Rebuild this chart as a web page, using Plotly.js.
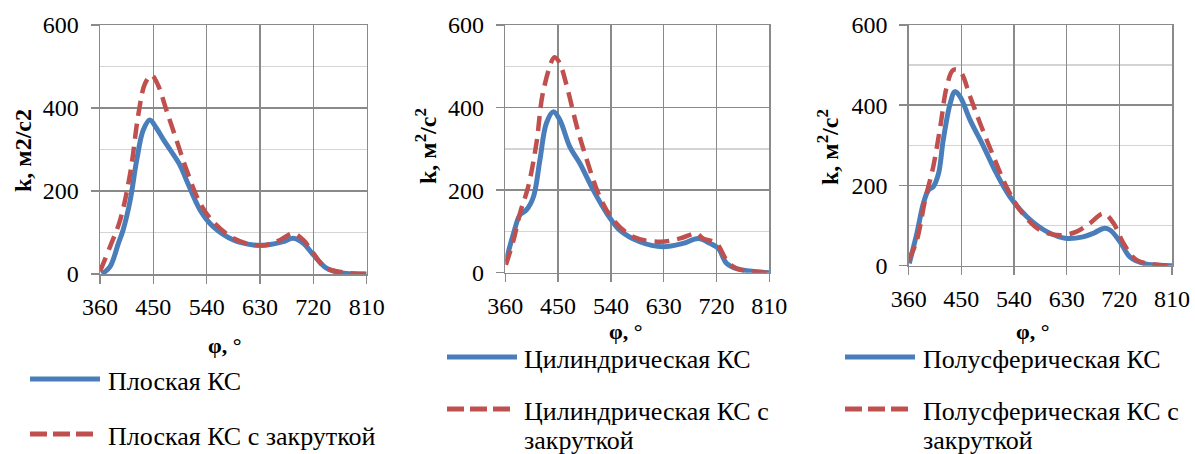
<!DOCTYPE html>
<html>
<head>
<meta charset="utf-8">
<script src="https://cdn.plot.ly/plotly-3.0.1.min.js"></script>
<style>
  html, body { margin: 0; padding: 0; background: #ffffff; }
  #chart { width: 1195px; height: 454px; }
</style>
</head>
<body>
<div id="chart"></div>
<script>
// ---------- DATA ----------
// Chart 1: flat combustion chamber
const phiFlat       = [363, 377, 391, 399, 411, 422, 433, 444, 455, 467, 478, 495, 506, 529, 551, 585, 619, 641, 669, 686, 703, 720, 742, 765, 810];
const kFlat         = [0,   18,  74,  106, 178, 275, 347, 371, 352, 324, 300, 262, 226, 154, 114, 82,  70,  70,  78,  86,  74,  46,  14,  3,   0];
const phiFlatSwirl  = [360, 377, 394, 411, 425, 436, 447, 458, 472, 489, 506, 529, 551, 585, 619, 641, 664, 686, 703, 720, 742, 810];
const kFlatSwirl    = [6,   66,  130, 243, 387, 459, 479, 455, 395, 323, 251, 170, 126, 86,  70,  70,  82,  98,  82,  50,  14,  0];

// Chart 2: cylindrical combustion chamber
const phiCyl        = [361, 374, 385, 396, 408, 419, 430, 442, 453, 470, 487, 510, 533, 555, 589, 629, 663, 689, 709, 723, 737, 754, 810];
const kCyl          = [27,  95,  140, 152, 184, 273, 362, 390, 370, 305, 265, 200, 144, 103, 75,  63,  71,  83,  71,  59,  23,  10,  0];
const phiCylSwirl   = [361, 374, 385, 399, 413, 425, 444, 452, 465, 482, 499, 521, 544, 578, 624, 658, 686, 697, 720, 737, 754, 810];
const kCylSwirl     = [19,  79,  144, 208, 313, 442, 522, 510, 451, 354, 273, 184, 128, 87,  75,  83,  95,  83,  71,  31,  10,  0];

// Chart 3: hemispherical combustion chamber
const phiHemi       = [361, 374, 385, 394, 402, 411, 419, 431, 439, 448, 465, 488, 510, 533, 562, 596, 630, 658, 676, 693, 704, 721, 738, 761, 810];
const kHemi         = [6,   81,  155, 189, 197, 230, 313, 405, 434, 421, 363, 297, 230, 172, 122, 85,  68,  72,  81,  93,  89,  60,  22,  6,   0];
const phiHemiSwirl  = [360, 374, 388, 402, 414, 425, 436, 448, 465, 482, 505, 527, 550, 584, 619, 647, 670, 693, 710, 727, 750, 810];
const kHemiSwirl    = [14,  64,  164, 247, 347, 446, 488, 484, 421, 355, 272, 197, 139, 89,  76,  85,  106, 130, 106, 56,  14,  0];

const namesFlat = ['Плоская КС', 'Плоская КС с закруткой'];
const namesCyl  = ['Цилиндрическая КС', 'Цилиндрическая КС с<br>закруткой'];
const namesHemi = ['Полусферическая КС', 'Полусферическая КС с<br>закруткой'];

const xTicks = [360, 450, 540, 630, 720, 810];
const yTicks = [0, 200, 400, 600];
const yMinorTicks = [100, 300, 500];
const yTitles = ['k, м2/с2', 'k, м<sup>2</sup>/с<sup>2</sup>', 'k, м<sup>2</sup>/с<sup>2</sup>'];
const xTitle = 'φ, °';

// ---------- STYLE / LAYOUT ----------
const W = 1195, H = 454;
const px = x => x / W;
const py = y => 1 - y / H;
const FONT = '"Liberation Serif", "Times New Roman", serif';
const BLUE = '#4A7EBB';
const RED = '#C0504D';
const GRID = '#8a8a8a';
const MINOR = '#d4d4d4';

const panels = [
  { left: 100,   right: 366.7, top: 25, bottom: 274,   names: namesFlat,
    series: [[phiFlat, kFlat], [phiFlatSwirl, kFlatSwirl]],
    ytitle: [23, 151], xtitle: [225, 345],
    leg: { x0: 30, x1: 100, tx: 106, y1: 381, y2: 436 } },
  { left: 505.3, right: 769.3, top: 25, bottom: 272.7, names: namesCyl,
    series: [[phiCyl, kCyl], [phiCylSwirl, kCylSwirl]],
    ytitle: [426, 146], xtitle: [626, 331],
    leg: { x0: 447, x1: 517, tx: 522, y1: 359, y2: 411 } },
  { left: 908.7, right: 1172,  top: 25, bottom: 265.7, names: namesHemi,
    series: [[phiHemi, kHemi], [phiHemiSwirl, kHemiSwirl]],
    ytitle: [828, 147], xtitle: [1033, 331],
    leg: { x0: 845, x1: 915, tx: 921, y1: 359, y2: 411 } }
];

const traces = [];
const layout = {
  width: W, height: H,
  margin: { l: 0, r: 0, t: 0, b: 0 },
  paper_bgcolor: '#ffffff', plot_bgcolor: '#ffffff',
  showlegend: false,
  font: { family: FONT, color: '#000000' },
  shapes: [], annotations: []
};

panels.forEach((p, i) => {
  const n = i === 0 ? '' : String(i + 1);
  const xa = 'x' + n, ya = 'y' + n;
  layout['xaxis' + n] = {
    domain: [px(p.left), px(p.right)], anchor: ya,
    range: [360, 810], tickmode: 'array', tickvals: xTicks,
    showgrid: true, gridcolor: GRID, gridwidth: 1.5,
    showline: true, linecolor: GRID, linewidth: 1.5, mirror: true,
    ticks: 'outside', ticklen: 8, tickcolor: GRID, tickwidth: 1.5,
    tickfont: { family: FONT, size: 24, color: '#000' },
    ticklabelstandoff: 3,
    zeroline: false, fixedrange: true
  };
  layout['yaxis' + n] = {
    domain: [py(p.bottom), py(p.top)], anchor: xa,
    range: [0, 600], tickmode: 'array', tickvals: yTicks,
    showgrid: true, gridcolor: GRID, gridwidth: 1.5,
    showline: true, linecolor: GRID, linewidth: 1.5, mirror: true,
    ticks: 'outside', ticklen: 8, tickcolor: GRID, tickwidth: 1.5,
    tickfont: { family: FONT, size: 24, color: '#000' },
    ticklabelstandoff: 7,
    minor: { tickmode: 'array', tickvals: yMinorTicks, showgrid: true, gridcolor: MINOR, gridwidth: 1.5, ticks: '' },
    zeroline: false, fixedrange: true
  };
  const styles = [
    { color: BLUE, width: 5, dash: 'solid' },
    { color: RED, width: 4.5, dash: '15px,8px' }
  ];
  p.series.forEach((s, j) => {
    traces.push({
      type: 'scatter', mode: 'lines', x: s[0], y: s[1],
      xaxis: xa, yaxis: ya, name: p.names[j].replace('<br>', ' '),
      line: Object.assign({ shape: 'spline', smoothing: 1 }, styles[j]),
      hoverinfo: 'skip'
    });
  });
  // legend samples and labels
  const L = p.leg;
  [[L.y1, 0], [L.y2, 1]].forEach(([yy, j]) => {
    const st = styles[j];
    layout.shapes.push({
      type: 'line', xref: 'paper', yref: 'paper',
      x0: px(L.x0), x1: px(j === 0 ? L.x1 : L.x1 - 6), y0: py(yy - 2), y1: py(yy - 2),
      line: { color: st.color, width: 5, dash: j === 0 ? 'solid' : '17px,6px' }
    });
    p.names[j].split('<br>').forEach((line, k) => {
      layout.annotations.push({
        xref: 'paper', yref: 'paper', x: px(L.tx), y: py(yy + k * 29),
        xanchor: 'left', yanchor: 'middle', align: 'left', showarrow: false,
        text: line, font: { family: FONT, size: 26, color: '#000' }
      });
    });
  });
  // axis titles
  layout.annotations.push({
    xref: 'paper', yref: 'paper', x: px(p.ytitle[0]), y: py(p.ytitle[1]),
    xanchor: 'center', yanchor: 'middle', textangle: -90, showarrow: false,
    text: '<b>' + yTitles[i] + '</b>', font: { family: FONT, size: 24, color: '#000' }
  });
  layout.annotations.push({
    xref: 'paper', yref: 'paper', x: px(p.xtitle[0]), y: py(p.xtitle[1]),
    xanchor: 'center', yanchor: 'middle', showarrow: false,
    text: '<b>' + xTitle + '</b>', font: { family: FONT, size: 22, color: '#000' }
  });
});

Plotly.newPlot('chart', traces, layout, { staticPlot: true, displayModeBar: false });
</script>
</body>
</html>
